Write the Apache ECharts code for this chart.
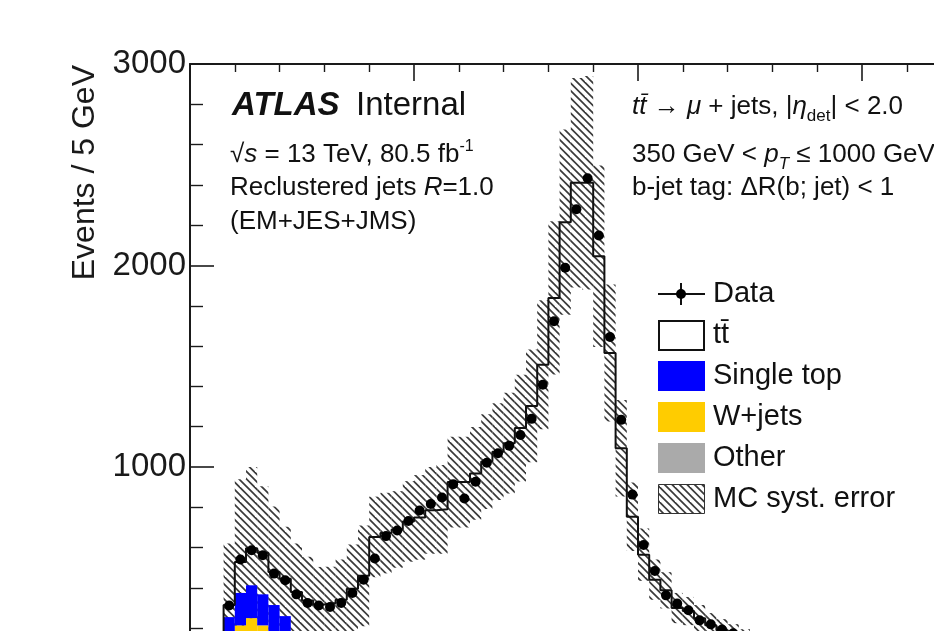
<!DOCTYPE html>
<html><head><meta charset="utf-8">
<script src="https://cdn.jsdelivr.net/npm/echarts@6/dist/echarts.min.js"></script>
<style>html,body{margin:0;padding:0;background:#fff}#c{width:934px;height:631px}</style>
</head><body><div id="c"></div>
<script>
// ---- data (5 GeV bins, low edges in GeV) ----
const binWidth = 5;
const binLow = [10,15,20,25,30,35,40,45,50,55,60,65,70,75,80,85,90,95,100,105,110,115,120,125,130,135,140,145,150,155,160,165,170,175,180,185,190,195,200,205,210,215,220,225,230,235,240,245];
const dataCounts = [120,313,541,587,562,471,438,368,325,313,305,325,375,441,546,657,685,732,784,816,849,915,844,927,1021,1068,1106,1159,1239,1408,1723,1989,2279,2433,2149,1645,1234,863,613,484,363,322,289,239,219,193,175,160];
const mcTotal = [125,315,529,597,574,479,446,380,338,318,325,341,396,460,653,672,690,730,750,785,790,925,925,968,1027,1076,1118,1193,1303,1507,1839,2215,2411,2411,2046,1566,1093,753,565,441,388,300,285,250,215,190,170,150];
const mcSystErr = [50,305,410,403,330,325,257,240,216,186,180,200,220,250,200,200,190,200,210,215,220,225,225,230,235,240,250,265,280,320,380,460,520,530,450,340,240,170,130,100,90,75,70,65,60,55,50,45];
const otherBkg = [20,35,40,45,40,35,30,28,25,22,20,20,18,18,17,17,16,16,15,15,15,15,15,15,15,15,15,15,15,15,15,15,15,15,15,15,14,13,12,11,10,10,9,9,8,8,7,7];
const wjetsBkg = [50,115,174,205,174,125,100,72,55,43,35,30,27,24,23,23,24,24,25,25,25,25,25,25,25,25,25,25,25,25,25,25,25,25,25,23,21,19,18,17,16,14,13,11,11,10,10,9];
const singleTopBkg = [40,105,161,163,154,155,130,75,60,50,45,40,40,38,35,35,35,35,38,40,42,45,48,50,52,55,58,60,65,70,75,80,85,85,75,62,50,43,35,30,26,24,22,20,18,16,14,13];
const yTickValues = [0,1000,2000,3000];

// ---- helpers ----
const FONT = '"Liberation Sans", Arial, Helvetica, sans-serif';
function makeHatch(){
  const c = document.createElement('canvas'); c.width = 15; c.height = 15;
  const g = c.getContext('2d');
  g.strokeStyle = '#3a3a3a'; g.lineWidth = 1.7;
  for (let k = -22.5; k <= 22.5; k += 7.5) { g.beginPath(); g.moveTo(k - 3, -3); g.lineTo(k + 18, 18); g.stroke(); }
  return c;
}
const hatch = {image: makeHatch(), repeat: 'repeat'};

const bandData = binLow.map((l,i)=>[l, mcTotal[i]-mcSystErr[i], mcTotal[i]+mcSystErr[i]]);
const otherData = binLow.map((l,i)=>[l, 0, otherBkg[i]]);
const wjetsData = binLow.map((l,i)=>[l, otherBkg[i], otherBkg[i]+wjetsBkg[i]]);
const stData = binLow.map((l,i)=>[l, otherBkg[i]+wjetsBkg[i], otherBkg[i]+wjetsBkg[i]+singleTopBkg[i]]);
const stepData = binLow.map((l,i)=>[l, mcTotal[i]]);
stepData.push([binLow[binLow.length-1]+binWidth, mcTotal[mcTotal.length-1]]);
const pointData = binLow.map((l,i)=>[l + binWidth/2, dataCounts[i]]);

function rectItem(fill){
  return function(params, api){
    const x0 = api.value(0), lo = api.value(1), hi = api.value(2);
    const p0 = api.coord([x0, hi]);
    const p1 = api.coord([x0 + binWidth, lo]);
    return {type:'rect', shape:{x:p0[0], y:p0[1], width:p1[0]-p0[0], height:p1[1]-p0[1]}, style:{fill: fill}};
  };
}

const chart = echarts.init(document.getElementById('c'), null, {renderer:'canvas'});
const axisCommon = {
  type:'value', min:0, max:400, interval:100,
  axisLine:{show:true, onZero:false, lineStyle:{color:'#1a1a1a', width:2}},
  axisTick:{show:true, inside:true, length:17, lineStyle:{color:'#1a1a1a', width:1.6}},
  minorTick:{show:true, splitNumber:5, length:8, lineStyle:{color:'#1a1a1a', width:1.4}},
  axisLabel:{show:false}, splitLine:{show:false}
};
const legendY = [294,335,376,417,458,499];
const txt = (x,y,text,extra)=>Object.assign({type:'text', x:x, y:y, z:100, style:Object.assign({text:text, fontFamily:FONT, fontSize:26, fill:'#111', textAlign:'left', textVerticalAlign:'middle'}, extra||{})});
const richBase = {
  it:{fontStyle:'italic', fontFamily:FONT, fontSize:26, fill:'#111'},
  sub:{fontFamily:FONT, fontSize:17, fill:'#111', padding:[18,0,0,0]},
  subit:{fontFamily:FONT, fontSize:17, fontStyle:'italic', fill:'#111', padding:[18,0,0,0]},
  sup:{fontFamily:FONT, fontSize:16, fill:'#111', padding:[0,0,16,0]}
};

chart.setOption({
  animation:false,
  backgroundColor:'#fff',
  grid:{left:190, top:64, right:-152, bottom:-37.5, containLabel:false, outerBoundsMode:'none'},
  xAxis:[
    Object.assign({position:'bottom'}, axisCommon),
    Object.assign({position:'top'}, axisCommon)
  ],
  yAxis:[{
    type:'value', min:0, max:3000, interval:1000,
    axisLine:{show:true, lineStyle:{color:'#1a1a1a', width:2}},
    axisTick:{show:true, inside:true, length:24, lineStyle:{color:'#1a1a1a', width:1.6}},
    minorTick:{show:true, splitNumber:5, length:13, lineStyle:{color:'#1a1a1a', width:1.4}},
    axisLabel:{show:true, margin:4, fontSize:33, fontFamily:FONT, color:'#1a1a1a',
      customValues: yTickValues, formatter: v => String(v)},
    splitLine:{show:false}
  }],
  series:[
    {type:'custom', name:'MC syst. error', renderItem:rectItem(hatch), data:bandData, encode:{x:0, y:[1,2]}, z:1, silent:true},
    {type:'custom', name:'Other', renderItem:rectItem('#aaaaaa'), data:otherData, encode:{x:0, y:[1,2]}, z:2, silent:true},
    {type:'custom', name:'W+jets', renderItem:rectItem('#ffcc00'), data:wjetsData, encode:{x:0, y:[1,2]}, z:2, silent:true},
    {type:'custom', name:'Single top', renderItem:rectItem('#0000ff'), data:stData, encode:{x:0, y:[1,2]}, z:2, silent:true},
    {type:'line', name:'tt', step:'end', data:stepData, symbol:'none', lineStyle:{color:'#111', width:2}, z:3, silent:true},
    {type:'scatter', name:'Data', data:pointData, symbol:'circle', symbolSize:10, itemStyle:{color:'#000', opacity:1}, z:4, silent:true}
  ],
  graphic:{elements:[
    // y axis title
    {type:'text', x:85, y:65, rotation:Math.PI/2, z:100, style:{text:'Events / 5 GeV', fontFamily:FONT, fontSize:32, fill:'#1a1a1a', textAlign:'right', textVerticalAlign:'middle'}},
    // ATLAS label
    txt(232,106,'ATLAS',{fontSize:33, fontWeight:'bold', fontStyle:'italic'}),
    txt(356,106,'Internal',{fontSize:33}),
    txt(230,155,'√{it|s} = 13 TeV, 80.5 fb{sup|-1}',{rich:richBase}),
    txt(230,188,'Reclustered jets {it|R}=1.0',{rich:richBase}),
    txt(230,222,'(EM+JES+JMS)'),
    // channel text
    txt(632,107,'{it|tt\u0304} \u2192 {it|\u03bc} + jets, |{it|\u03b7}{sub|det}| < 2.0',{rich:richBase}),
    txt(632,155,'350 GeV < {it|p}{subit|T} \u2264 1000 GeV',{rich:richBase}),
    txt(632,188,'b-jet tag: \u0394R(b; jet) < 1'),
    // legend
    {type:'line', z:100, shape:{x1:658, y1:legendY[0], x2:705, y2:legendY[0]}, style:{stroke:'#111', lineWidth:2}},
    {type:'line', z:100, shape:{x1:681, y1:legendY[0]-11, x2:681, y2:legendY[0]+11}, style:{stroke:'#111', lineWidth:2}},
    {type:'circle', z:101, shape:{cx:681, cy:legendY[0], r:5}, style:{fill:'#000'}},
    {type:'rect', z:100, shape:{x:659, y:legendY[1]-14, width:45, height:29}, style:{fill:'#fff', stroke:'#111', lineWidth:2}},
    {type:'rect', z:100, shape:{x:658, y:legendY[2]-15, width:47, height:30}, style:{fill:'#0000ff'}},
    {type:'rect', z:100, shape:{x:658, y:legendY[3]-15, width:47, height:30}, style:{fill:'#ffcc00'}},
    {type:'rect', z:100, shape:{x:658, y:legendY[4]-15, width:47, height:30}, style:{fill:'#aaaaaa'}},
    {type:'rect', z:100, shape:{x:658.5, y:legendY[5]-14.5, width:46, height:29}, style:{fill:hatch, stroke:'#333', lineWidth:1}},
    txt(713,legendY[0],'Data',{fontSize:29}),
    txt(713,legendY[1],'tt\u0304',{fontSize:29}),
    txt(713,legendY[2],'Single top',{fontSize:29}),
    txt(713,legendY[3],'W+jets',{fontSize:29}),
    txt(713,legendY[4],'Other',{fontSize:29}),
    txt(713,legendY[5],'MC syst. error',{fontSize:29})
  ]}
});
</script></body></html>
